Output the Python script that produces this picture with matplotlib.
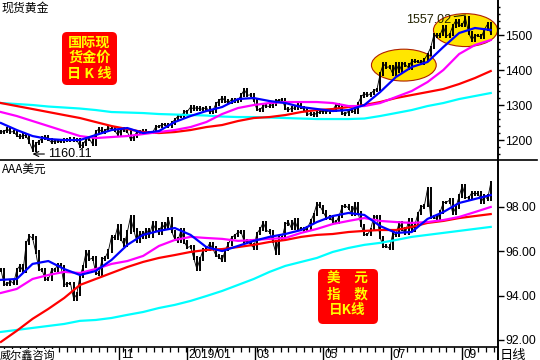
import numpy as np
import pandas as pd
import matplotlib
matplotlib.use("Agg")
import matplotlib.pyplot as plt
from matplotlib.patches import Ellipse, FancyBboxPatch
from matplotlib.transforms import blended_transform_factory

plt.rcParams['font.family'] = ['Liberation Sans', 'Noto Sans CJK SC', 'DejaVu Sans']
CJK = ['Noto Sans CJK SC', 'DejaVu Sans']

# 交易日（从2018-07-19起），收盘价每2个交易日取一个
dates = pd.bdate_range('2018-07-19', periods=316)

gold_close = [
    1223, 1224, 1232, 1223, 1224,
    1213, 1208, 1214, 1212, 1194, 1172, 1190, 1196, 1206, 1210, 1202,
    1193, 1198, 1197, 1196, 1201, 1200, 1203, 1198, 1200, 1182,
    1188, 1203, 1203, 1188, 1225, 1231, 1223, 1227, 1235, 1232, 1227, 1214,
    1232, 1227, 1224, 1201, 1210, 1223, 1221, 1226, 1222, 1221, 1222,
    1238, 1238, 1244, 1244, 1238, 1249, 1258, 1268, 1268, 1280,
    1282, 1294, 1289, 1293, 1288, 1289, 1293, 1280, 1283, 1303, 1312, 1321,
    1311, 1307, 1316, 1312, 1313, 1328, 1344, 1328, 1329, 1313,
    1287, 1286, 1298, 1297, 1296, 1302, 1313, 1313, 1316, 1290,
    1286, 1291, 1291, 1303, 1293, 1288, 1273, 1276, 1271, 1278, 1280,
    1284, 1280, 1284, 1285, 1301, 1297, 1276, 1274, 1283, 1285, 1280, 1305,
    1324, 1333, 1327, 1333, 1341, 1345, 1389, 1418, 1408, 1409,
    1389, 1418, 1396, 1419, 1415, 1406, 1426, 1424, 1425, 1419, 1430,
    1445, 1464, 1500, 1497, 1501, 1524, 1497, 1502, 1526, 1542, 1527,
    1529, 1549, 1506, 1486, 1498, 1498, 1494, 1516, 1531, 1504]

dxy_close = [
    95.16, 94.52, 94.51, 94.66, 94.54,
    95.16, 95.35, 95.11, 96.37, 96.69, 96.59, 95.98, 95.17, 95.16, 94.73, 94.75,
    95.15, 95.16, 95.41, 95.31, 94.49, 94.55, 94.55, 93.85, 94.06, 94.87,
    95.32, 96.00, 95.63, 95.70, 95.03, 94.98, 95.64, 95.72, 96.02, 96.67, 96.60, 97.13,
    96.54, 96.27, 96.87, 97.55, 96.96, 96.46, 96.85, 96.65, 96.98, 96.70, 97.27,
    96.99, 96.82, 97.22, 97.02, 97.47, 96.90, 96.55, 96.46, 96.98, 96.43,
    96.17, 96.22, 95.69, 95.20, 95.66, 96.06, 96.10, 96.35, 96.14, 95.82, 95.75, 95.58,
    96.08, 96.34, 96.63, 96.72, 96.86, 96.87, 96.43, 96.48, 96.30, 96.16,
    96.81, 97.00, 97.30, 96.94, 96.88, 96.44, 95.93, 96.60, 96.62, 97.23,
    97.32, 97.02, 97.40, 96.99, 97.02, 96.95, 97.05, 97.36, 97.67, 98.15, 98.02,
    97.77, 97.49, 97.58, 97.35, 97.30, 97.59, 98.02, 98.05, 97.96, 97.66, 98.13, 97.75,
    97.17, 96.75, 96.75, 96.99, 97.56, 97.54, 96.62, 96.21, 96.23, 96.13,
    96.81, 96.74, 97.29, 97.00, 96.80, 97.40, 96.95, 97.20, 97.71, 98.01, 98.06,
    98.82, 97.54, 97.55, 97.45, 97.78, 98.20, 98.21, 98.31, 97.70, 98.00, 98.49,
    98.97, 98.43, 98.41, 98.64, 98.58, 98.63, 98.22, 98.51, 98.35, 99.08]

close_days = list(range(0, 2 * len(gold_close), 2))

# 均线，每10个交易日读一个点
ma_days = list(range(0, 320, 10))

gold_ma_blue = [1248.6, 1228.6, 1211.4, 1202.9, 1200.0, 1200.0, 1214.3, 1228.6,
                1234.3, 1220.0, 1225.7, 1251.4, 1268.6, 1282.9, 1294.3, 1317.1,
                1320.0, 1311.4, 1305.7, 1294.3, 1288.6, 1282.9, 1285.7, 1300.0,
                1337.1, 1380.0, 1408.6, 1422.9, 1465.7, 1505.7, 1520.0, 1514.3]
gold_ma_magenta = [1280.0, 1268.6, 1254.3, 1240.0, 1225.7, 1211.4, 1205.7, 1208.6,
                   1211.4, 1217.1, 1222.9, 1228.6, 1237.1, 1251.4, 1274.3, 1291.4,
                   1300.0, 1305.7, 1308.6, 1308.6, 1308.6, 1305.7, 1297.1, 1297.1,
                   1305.7, 1322.9, 1340.0, 1365.7, 1400.0, 1445.7, 1471.4, 1485.7]
gold_ma_red = [1305.7, 1297.1, 1288.6, 1280.0, 1271.4, 1262.9, 1251.4, 1240.0,
               1231.4, 1222.9, 1220.0, 1222.9, 1228.6, 1237.1, 1242.9, 1254.3,
               1262.9, 1265.7, 1271.4, 1280.0, 1285.7, 1288.6, 1294.3, 1300.0,
               1308.6, 1320.0, 1328.6, 1337.1, 1345.7, 1360.0, 1377.1, 1397.1]
gold_ma_cyan = [1305.7, 1302.9, 1300.0, 1295.7, 1292.9, 1290.0, 1285.7, 1280.0,
                1278.6, 1277.1, 1274.3, 1272.9, 1271.4, 1270.0, 1267.1, 1265.7,
                1265.7, 1264.3, 1262.9, 1261.4, 1260.0, 1260.0, 1260.0, 1261.4,
                1268.6, 1277.1, 1285.7, 1297.1, 1305.7, 1317.1, 1325.7, 1334.3]

dxy_ma_blue = [94.71, 94.75, 95.43, 95.56, 95.20, 94.93, 95.11, 95.61,
               96.29, 96.74, 96.92, 97.05, 96.74, 96.19, 96.01, 96.24,
               96.47, 96.65, 96.78, 96.96, 97.32, 97.59, 97.73, 97.64,
               97.14, 96.83, 96.87, 97.46, 97.77, 98.18, 98.36, 98.54]
dxy_ma_magenta = [94.12, 94.30, 94.75, 94.93, 95.07, 95.02, 95.20, 95.43,
                  95.56, 95.79, 96.24, 96.51, 96.65, 96.60, 96.56, 96.47,
                  96.51, 96.56, 96.60, 96.83, 97.01, 97.23, 97.37, 97.50,
                  97.37, 97.32, 97.28, 97.32, 97.41, 97.55, 97.77, 98.00]
dxy_ma_red = [91.91, 92.41, 92.95, 93.40, 93.89, 94.48, 94.75, 95.02,
              95.29, 95.52, 95.70, 95.83, 95.97, 96.06, 96.10, 96.19,
              96.29, 96.42, 96.51, 96.65, 96.74, 96.78, 96.87, 96.92,
              96.96, 96.96, 97.10, 97.28, 97.37, 97.50, 97.59, 97.68]
dxy_ma_cyan = [92.36, 92.45, 92.54, 92.63, 92.72, 92.86, 92.90, 92.99,
               93.13, 93.26, 93.44, 93.58, 93.76, 93.98, 94.21, 94.48,
               94.75, 95.07, 95.34, 95.52, 95.70, 95.97, 96.15, 96.29,
               96.38, 96.51, 96.65, 96.74, 96.83, 96.92, 97.01, 97.10]

gold_ticks = [1200, 1300, 1400, 1500]
dxy_ticks = [92, 94, 96, 98]

W, H = 540, 360
fig = plt.figure(figsize=(5.4, 3.6), dpi=100)


def rect(x0, y0, x1, y1):
    return [x0 / W, 1 - y1 / H, (x1 - x0) / W, (y1 - y0) / H]


ax1 = fig.add_axes(rect(0, 0, 498, 160))
ax2 = fig.add_axes(rect(0, 160, 498, 347))


def draw_bars(ax, closes, wick):
    c = np.array(closes, dtype=float)
    d = np.array(close_days)
    prev = np.r_[c[0], c[:-1]]
    ax.vlines(d, np.minimum(prev, c) - wick, np.maximum(prev, c) + wick,
              color='black', lw=1.4, zorder=3)
    ax.plot(d, c, color='black', lw=0.6, zorder=3)


def draw_mas(ax, blue, magenta, red, cyan):
    ax.plot(ma_days, cyan, color='#00FFFF', lw=1.6, zorder=4)
    ax.plot(ma_days, red, color='#FF0000', lw=1.6, zorder=4)
    ax.plot(ma_days, magenta, color='#FF00FF', lw=1.6, zorder=4)
    ax.plot(ma_days, blue, color='#0000FF', lw=1.6, zorder=5)


for ax in (ax1, ax2):
    ax.set_xlim(-0.6, 314.6)
    ax.spines['left'].set_visible(False)
    ax.spines['top'].set_visible(False)
    ax.spines['right'].set_linewidth(1.4)
    ax.spines['bottom'].set_linewidth(1.2)
    ax.yaxis.tick_right()
    ax.tick_params(axis='y', direction='out', length=4, width=1, labelsize=8.7, pad=1)
    ax.patch.set_alpha(0)

# 上图：现货黄金
ax1.set_ylim(1143, 1600)
ax1.set_yticks(gold_ticks)
ax1.set_yticks(np.arange(1160, 1600, 20), minor=True)
ax1.tick_params(axis='y', which='minor', length=1.5, width=1)
ax1.set_xticks([])
ax1.add_patch(Ellipse((255, 1414), 41, 91, facecolor='#FFE600', edgecolor='#B02000', lw=0.8, zorder=1))
ax1.add_patch(Ellipse((294, 1514), 40.5, 94, facecolor='#FFE600', edgecolor='#B02000', lw=0.8, zorder=1))
draw_bars(ax1, gold_close, 5)
draw_mas(ax1, gold_ma_blue, gold_ma_magenta, gold_ma_red, gold_ma_cyan)

i_hi = close_days[int(np.argmax(gold_close))]
i_lo = close_days[int(np.argmin(gold_close))]
ax1.annotate('1557.02', xy=(i_hi, 1557.02), xytext=(-14, -5), textcoords='offset pixels',
             ha='right', va='center', fontsize=9, color='#222200',
             arrowprops=dict(arrowstyle='-', lw=0.8, color='#222200', shrinkA=0, shrinkB=0), zorder=6)
ax1.annotate('1160.11', xy=(i_lo, 1160.11), xytext=(16, 0), textcoords='offset pixels',
             ha='left', va='center', fontsize=9, color='black',
             arrowprops=dict(arrowstyle='->', lw=0.8, color='black', shrinkA=1, shrinkB=0), zorder=6)

# 下图：美元指数
ax2.set_ylim(91.68, 100.12)
ax2.set_yticks(dxy_ticks)
ax2.set_yticklabels([f'{v:.2f}' for v in dxy_ticks])
draw_bars(ax2, dxy_close, 0.08)
draw_mas(ax2, dxy_ma_blue, dxy_ma_magenta, dxy_ma_red, dxy_ma_cyan)

month_starts = [i for i in range(1, len(dates)) if dates[i].month != dates[i - 1].month]
major = [i for i in month_starts if dates[i].month in (9, 11, 1, 3, 5, 7)]
mondays = [i for i, d in enumerate(dates) if d.weekday() == 0 and i < 315]
ax2.set_xticks(mondays, minor=True)
ax2.set_xticks(major)
ax2.set_xticklabels([])
ax2.tick_params(axis='x', which='minor', direction='out', length=3.5, width=0.9)
ax2.tick_params(axis='x', which='major', direction='out', length=9, width=1)
trans = blended_transform_factory(ax2.transData, ax2.transAxes)
for i in major[1:]:  # 第一个"09"被左下角的水印遮住
    d = dates[i]
    lab = f'{d.year}/{d.month:02d}' if d.month == 1 else f'{d.month:02d}'
    ax2.text(i + 0.8, -0.012, lab, transform=trans, ha='left', va='top', fontsize=8.5,
             clip_on=False)

# 覆盖层：文字与标签框
ov = fig.add_axes([0, 0, 1, 1])
ov.set_xlim(0, W)
ov.set_ylim(H, 0)
ov.axis('off')
ov.patch.set_alpha(0)

ov.plot([498, 537], [160, 160], color='black', lw=1.2)
ov.plot([498, 498], [347, 360], color='black', lw=1.4)

ov.text(1, 8, '现货黄金', family=CJK, fontsize=8.6, va='center', ha='left')
ov.text(2, 169, 'AAA美元', family=CJK, fontsize=8.4, va='center', ha='left')
ov.text(0, 355, '威尔鑫咨询', family=CJK, fontsize=8, va='center', ha='left',
        bbox=dict(facecolor='white', edgecolor='none', pad=0.5))
ov.text(500, 355, '日线', family=CJK, fontsize=9.5, va='center', ha='left')

ov.add_patch(FancyBboxPatch((62, 32), 55, 53, boxstyle='round,pad=0,rounding_size=5',
                            facecolor='#FF0000', edgecolor='none'))
for y, line in zip([42.5, 58, 74], ['国际现', '货金价', '日 K 线']):
    ov.text(89.5, y, line, family=CJK, fontsize=10.2, fontweight='bold', color='#FFFF00',
            ha='center', va='center')

ov.add_patch(FancyBboxPatch((318, 269), 60, 55, boxstyle='round,pad=0,rounding_size=5',
                            facecolor='#FF0000', edgecolor='none'))
for y, line in zip([279, 294, 310], ['美\u3000元', '指\u3000数', '日K线']):
    ov.text(347, y, line, family=CJK, fontsize=9.8, fontweight='bold', color='#FFFF00',
            ha='center', va='center')

fig.savefig('out.png', dpi=100)
